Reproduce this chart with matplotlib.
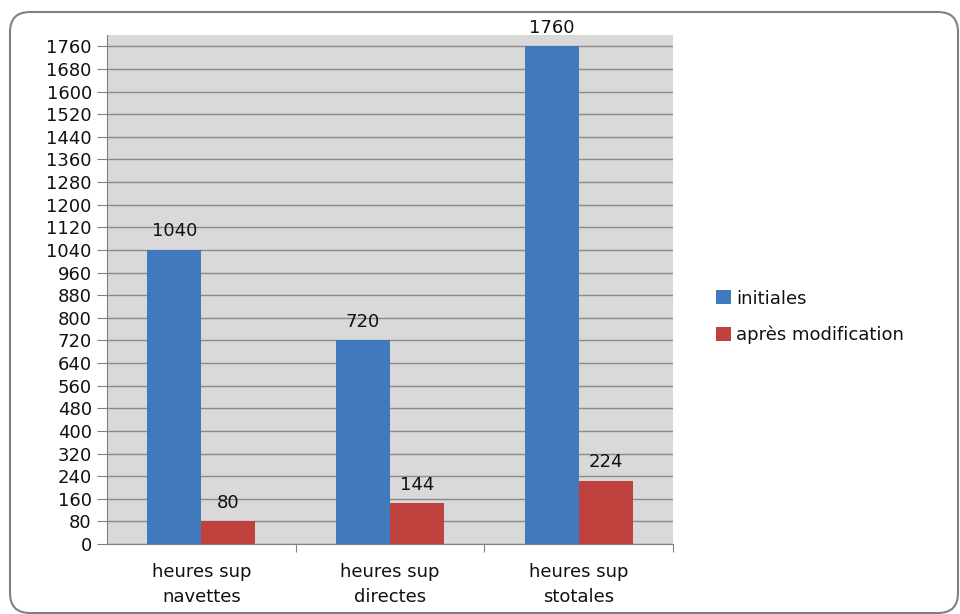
import numpy as np
from matplotlib import pyplot as plt
from matplotlib.patches import FancyBboxPatch

categories = ['heures sup\nnavettes', 'heures sup\ndirectes', 'heures sup\nstotales']
initiales = [1040, 720, 1760]
apres_modification = [80, 144, 224]
series_names = ['initiales', 'après modification']
yticks = list(range(0, 1761, 80))

plt.rcParams['font.family'] = ['DejaVu Sans']

fig = plt.figure(figsize=(9.6, 6.14), dpi=100)
ax = fig.add_axes([0.1115, 0.114, 0.5895, 0.829])

# rounded outer frame in pixels
frame = FancyBboxPatch((10, 1), 948, 601, boxstyle='round,pad=0,rounding_size=20',
                       transform=None, fill=False, edgecolor='#808080', linewidth=1.5)
fig.patches.append(frame)

x = np.arange(len(categories))
w = 0.286
b1 = ax.bar(x - w / 2, initiales, w, color='#4179bd', label=series_names[0], zorder=3)
b2 = ax.bar(x + w / 2, apres_modification, w, color='#c0423f', label=series_names[1], zorder=3)

for bars in (b1, b2):
    for bar in bars:
        h = bar.get_height()
        ax.annotate(str(int(h)), (bar.get_x() + bar.get_width() / 2, h), xytext=(0, 7),
                    textcoords='offset points', ha='center', va='bottom', fontsize=13, color='#111111')

ax.set_facecolor('#d9d9d9')
ax.set_xlim(-0.5, 2.5)
ax.set_ylim(0, 1800)
ax.set_yticks(yticks)
ax.set_yticklabels([str(t) for t in yticks], fontsize=13, color='#111111')
ax.yaxis.grid(True, color='#8a8a8a', linewidth=1, zorder=0)
ax.set_axisbelow(True)

ax.set_xticks([0.5, 1.5, 2.5], minor=False)
ax.set_xticklabels([])
ax.set_xticks(x, minor=True)
ax.set_xticklabels(categories, minor=True, fontsize=13, color='#111111', linespacing=1.45)
ax.tick_params(axis='x', which='minor', length=0, pad=14)
ax.tick_params(axis='x', which='major', length=6, color='#808080')
ax.tick_params(axis='y', length=7, color='#808080', pad=4)

for s in ('top', 'right'):
    ax.spines[s].set_visible(False)
ax.spines['left'].set_color('#808080')
ax.spines['bottom'].set_color('#808080')

fig.legend(handles=[b1, b2], loc='center left', bbox_to_anchor=(0.729, 0.484), frameon=False,
           fontsize=13, handlelength=0.8, handleheight=0.8, handletextpad=0.3, labelspacing=1.0,
           labelcolor='#111111')

plt.savefig('out.png', dpi=100)
